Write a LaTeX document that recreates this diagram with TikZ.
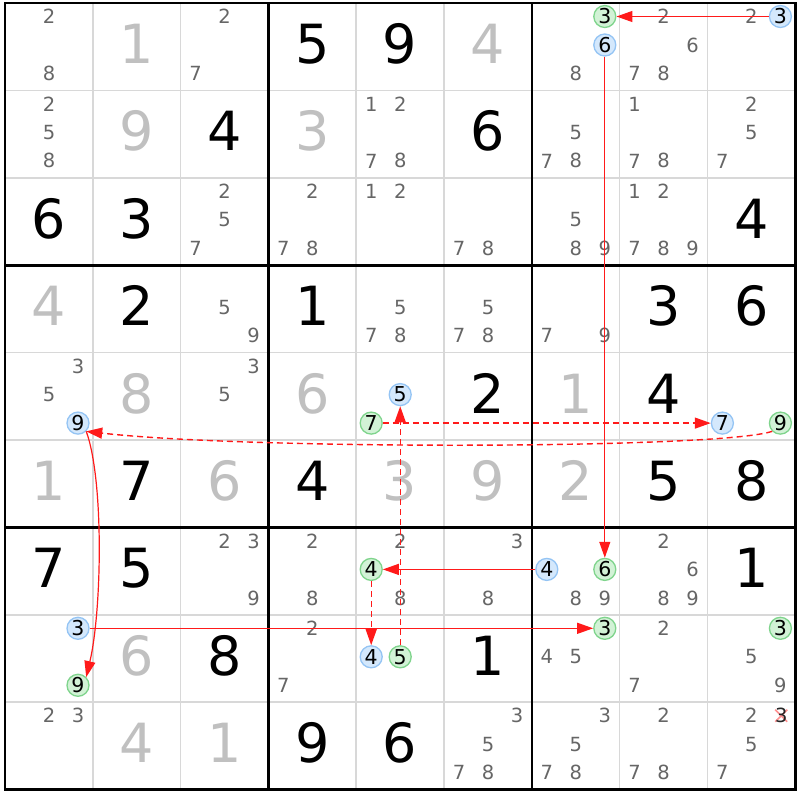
\documentclass[tikz,border=0pt]{standalone}
\usepackage{fontspec}
\setmainfont{DejaVu Sans}
\usetikzlibrary{arrows.meta}
\definecolor{candc}{HTML}{666666}
\definecolor{solvc}{HTML}{C0C0C0}
\definecolor{gridc}{HTML}{D8D8D8}
\definecolor{bfill}{HTML}{D4E8FC}
\definecolor{bline}{HTML}{94C4F4}
\definecolor{gfill}{HTML}{D2F2D6}
\definecolor{gline}{HTML}{7FD48C}
\definecolor{linkc}{HTML}{FF1A1A}
\definecolor{xc}{HTML}{FF9090}
\tikzset{
 given/.style={anchor=base, inner sep=0pt, font=\fontsize{54}{54}\selectfont, text=black},
 solved/.style={given, text=solvc},
 cand/.style={inner sep=0pt, font=\fontsize{19.5}{19.5}\selectfont, text=candc},
 bcirc/.style={circle, draw=bline, fill=bfill, line width=1.3pt, minimum size=22pt, inner sep=0pt, font=\fontsize{20.5}{20.5}\selectfont, text=black},
 gcirc/.style={bcirc, draw=gline, fill=gfill},
 strong/.style={draw=linkc, line width=1.2pt, -{Triangle[length=16pt,width=11pt]}},
 weak/.style={strong, line width=1.4pt, dash pattern=on 6pt off 4pt},
 thinline/.style={draw=gridc, line width=1.6pt},
 thickline/.style={draw=black, line width=2.6pt},
}
\newcommand\CircAt[5]{\node[#1] (#2) at ({5+#4*87.8+15+mod(#5-1,3)*29},{3+#3*87.4+13.5+int((#5-1)/3)*28.5}) {#5};}
\begin{document}
\begin{tikzpicture}[x=1pt,y=-1pt]
\useasboundingbox (0,0) rectangle (800,800);
\fill[white] (0,0) rectangle (800,800);
% thin grid
\foreach \i in {1,2,4,5,7,8} {
  \draw[thinline] ({5+\i*87.8},3) -- ({5+\i*87.8},789.6);
  \draw[thinline] (5,{3+\i*87.4}) -- (795.2,{3+\i*87.4});
}
\foreach \i in {3,6} {
  \draw[thickline] ({5+\i*87.8},3) -- ({5+\i*87.8},789.6);
  \draw[thickline] (5,{3+\i*87.4}) -- (795.2,{3+\i*87.4});
}
\draw[thickline] (5,3) rectangle (795.2,789.6);
% given digits
\foreach \r/\c/\d in {0/3/5,0/4/9,1/2/4,1/5/6,2/0/6,2/1/3,2/8/4,3/1/2,3/3/1,3/7/3,3/8/6,4/5/2,4/7/4,5/1/7,5/3/4,5/7/5,5/8/8,6/0/7,6/1/5,6/8/1,7/2/8,7/5/1,8/3/9,8/4/6}
  \node[given] (v\r\c) at ({5+\c*87.8+43.9},{3+\r*87.4+60.5}) {\d};
% solved digits
\foreach \r/\c/\d in {0/1/1,0/5/4,1/1/9,1/3/3,3/0/4,4/1/8,4/3/6,4/6/1,5/0/1,5/2/6,5/4/3,5/5/9,5/6/2,7/1/6,8/1/4,8/2/1}
  \node[solved] (s\r\c) at ({5+\c*87.8+43.9},{3+\r*87.4+60.5}) {\d};
% candidates
\foreach \r/\c/\ds in {0/0/{2,8},0/2/{2,7},0/6/{8},0/7/{2,6,7,8},0/8/{2},
  1/0/{2,5,8},1/4/{1,2,7,8},1/6/{5,7,8},1/7/{1,7,8},1/8/{2,5,7},
  2/2/{2,5,7},2/3/{2,7,8},2/4/{1,2},2/5/{7,8},2/6/{5,8,9},2/7/{1,2,7,8,9},
  3/2/{5,9},3/4/{5,7,8},3/5/{5,7,8},3/6/{7,9},
  4/0/{3,5},4/2/{3,5},
  6/2/{2,3,9},6/3/{2,8},6/4/{2,8},6/5/{3,8},6/6/{8,9},6/7/{2,6,8,9},
  7/3/{2,7},7/6/{4,5},7/7/{2,7},7/8/{5,9},
  8/0/{2,3},8/5/{3,5,7,8},8/6/{3,5,7,8},8/7/{2,7,8},8/8/{2,5,7}}
  {\foreach \d in \ds
    \node[cand] (c\r\c\d) at ({5+\c*87.8+15+mod(\d-1,3)*29},{3+\r*87.4+13.5+int((\d-1)/3)*28.5}) {\d};}
% eliminated candidate
\coordinate (xm) at (781.2,715.7);
\draw[xc, line width=1.6pt] ([shift={(-6,-6)}]xm) -- ([shift={(6,6)}]xm);
\draw[xc, line width=1.6pt] ([shift={(-6,6)}]xm) -- ([shift={(6,-6)}]xm);
\node[cand, text=black!85] (elim) at (xm) {3};
% circled candidates
\CircAt{gcirc}{g3a}{0}{6}{3}
\CircAt{bcirc}{b6}{0}{6}{6}
\CircAt{bcirc}{b3a}{0}{8}{3}
\CircAt{bcirc}{b9}{4}{0}{9}
\CircAt{bcirc}{b5}{4}{4}{5}
\CircAt{gcirc}{g7}{4}{4}{7}
\CircAt{bcirc}{b7}{4}{8}{7}
\CircAt{gcirc}{g9a}{4}{8}{9}
\CircAt{gcirc}{g4a}{6}{4}{4}
\CircAt{bcirc}{b4a}{6}{6}{4}
\CircAt{gcirc}{g6}{6}{6}{6}
\CircAt{bcirc}{b3b}{7}{0}{3}
\CircAt{gcirc}{g9b}{7}{0}{9}
\CircAt{bcirc}{b4b}{7}{4}{4}
\CircAt{gcirc}{g5}{7}{4}{5}
\CircAt{gcirc}{g3b}{7}{6}{3}
\CircAt{gcirc}{g3c}{7}{8}{3}
% links
\draw[strong] (b3a) -- (g3a);
\draw[strong] (b6) -- (g6);
\draw[strong] (b4a) -- (g4a);
\draw[weak] (g4a) -- (b4b);
\draw[weak] (g5) -- (b5);
\draw[weak] (g7) -- (b7);
\draw[weak] (g9a.south west) .. controls (720,449) and (250,450) .. (b9.south east);
\draw[strong] (b9.south east) .. controls (104,480) and (102,610) .. (g9b.north east);
\draw[strong] (b3b) -- (g3b);
\end{tikzpicture}
\end{document}
